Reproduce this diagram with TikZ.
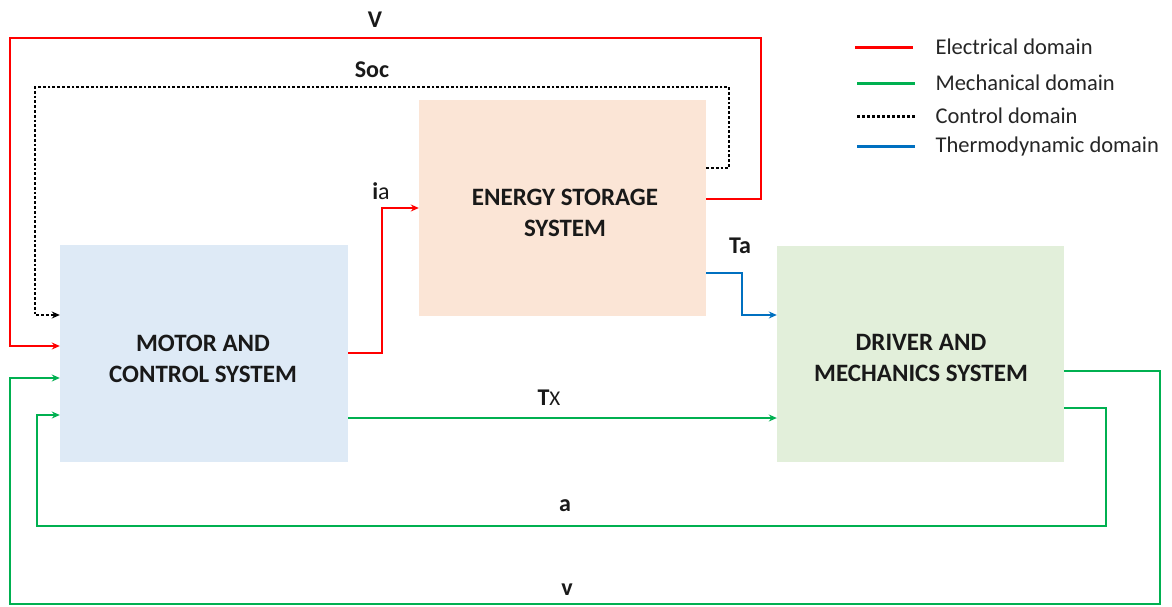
\documentclass[tikz,border=0pt]{standalone}
\usepackage{fontspec}
\setmainfont{Carlito}
\usetikzlibrary{arrows.meta}
\definecolor{elec}{HTML}{FF0000}
\definecolor{mech}{HTML}{00B050}
\definecolor{thermo}{HTML}{0070C0}
\definecolor{bluebox}{HTML}{DEEAF6}
\definecolor{peachbox}{HTML}{FBE5D6}
\definecolor{greenbox}{HTML}{E2EFDA}
\begin{document}
\begin{tikzpicture}[x=1pt,y=-1pt,
  sysbox/.style={inner sep=0pt},
  systxt/.style={inner sep=0pt, font=\fontsize{25}{31}\selectfont\bfseries, align=center, text=black!90},
  conn/.style={line width=2.8pt, -{Stealth[length=8pt,width=7pt]}},
  lbl/.style={font=\fontsize{24}{28}\selectfont\bfseries, text=black!90},
  legtxt/.style={font=\fontsize{22.5}{26}\selectfont, anchor=west, text=black!85},
  legline/.style={line width=3pt}]
\useasboundingbox (0,0) rectangle (1172,606);
\fill[white] (0,0) rectangle (1172,606);
% boxes
\node[sysbox, fill=bluebox, minimum width=288pt, minimum height=217pt] (mcs) at (204,353.5) {};
\node[sysbox, fill=peachbox, minimum width=287pt, minimum height=216pt] (ess) at (562.5,208) {};
\node[sysbox, fill=greenbox, minimum width=287pt, minimum height=216pt] (dms) at (920.5,354) {};
\node[systxt] (mcstxt) at (203,359) {MOTOR AND\\CONTROL SYSTEM};
\node[systxt] (esstxt) at (565,213) {ENERGY STORAGE\\SYSTEM};
\node[systxt] (dmstxt) at (921,358) {DRIVER AND\\MECHANICS SYSTEM};
% coordinates
\coordinate (vA) at (761,38);
\coordinate (vB) at (10,38);
\coordinate (sA) at (729,87);
\coordinate (sB) at (35,87);
% V
\draw[conn, elec] (ess.east |- 0,199) -| (vA) -- (vB) |- (mcs.west |- 0,346);
\node[lbl] (vlab) at (375,20) {V};
% Soc
\draw[conn, black, dotted] (ess.east |- 0,168) -| (sA) -- (sB) |- (mcs.west |- 0,315);
\node[lbl] (soclab) at (372,70) {Soc};
% ia
\draw[conn, elec] (mcs.east |- 0,353) -| (382,280) |- (ess.west |- 0,208);
\node[lbl] (ialab) at (381,191) {i\textmd{a}};
% Ta
\draw[conn, thermo] (ess.east |- 0,273) -| (742,290) |- (dms.west |- 0,315);
\node[lbl] (talab) at (740,246) {Ta};
% Tx
\draw[conn, mech] (mcs.east |- 0,418) -- (dms.west |- 0,418);
\node[lbl] (txlab) at (549,398) {T\textmd{\fontsize{21}{24}\selectfont X}};
% a
\coordinate (aA) at (1106,526);
\coordinate (aB) at (37,526);
\draw[conn, mech] (dms.east |- 0,408) -| (aA) -- (aB) |- (mcs.west |- 0,415);
\node[lbl] (alab) at (565,506) {a};
% v
\coordinate (wA) at (1160,604);
\coordinate (wB) at (10,604);
\draw[conn, mech] (dms.east |- 0,371) -| (wA) -- (wB) |- (mcs.west |- 0,378);
\node[lbl] (wlab) at (567,590) {v};
% legend
\coordinate (l1a) at (855,47); \coordinate (l1b) at (913,47);
\coordinate (l2a) at (857,83); \coordinate (l2b) at (915,83);
\coordinate (l3a) at (857,116); \coordinate (l3b) at (915,116);
\coordinate (l4a) at (857,146); \coordinate (l4b) at (915,146);
\draw[legline, elec] (l1a) -- (l1b);
\draw[legline, mech] (l2a) -- (l2b);
\draw[legline, black, dotted] (l3a) -- (l3b);
\draw[legline, thermo] (l4a) -- (l4b);
\node[legtxt] (t1) at (932,47) {Electrical domain};
\node[legtxt] (t2) at (932,83) {Mechanical domain};
\node[legtxt] (t3) at (932,116) {Control domain};
\node[legtxt] (t4) at (932,146) {Thermodynamic domain};
\end{tikzpicture}
\end{document}
